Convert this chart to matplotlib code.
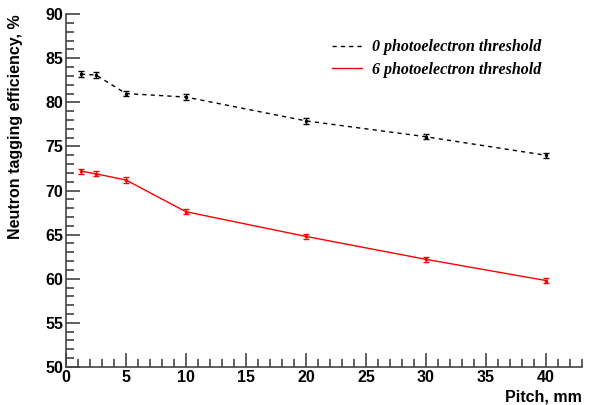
import numpy as np
import matplotlib
matplotlib.use("Agg")
import matplotlib.pyplot as plt
from matplotlib.ticker import MultipleLocator
from matplotlib.lines import Line2D

# data
pitch = [1.25, 2.5, 5, 10, 20, 30, 40]
eff_0pe = [83.2, 83.1, 81.0, 80.6, 77.9, 76.1, 74.0]
err_0pe = [0.3, 0.3, 0.3, 0.3, 0.3, 0.3, 0.3]
eff_6pe = [72.2, 71.9, 71.2, 67.6, 64.8, 62.2, 59.8]
err_6pe = [0.3, 0.3, 0.3, 0.3, 0.3, 0.3, 0.3]
labels = ["0 photoelectron threshold", "6 photoelectron threshold"]

plt.rcParams['font.family'] = ['Liberation Sans', 'DejaVu Sans']

fig = plt.figure(figsize=(5.89, 4.05), dpi=100)
ax = fig.add_axes([0.112, 0.094, 0.876, 0.871])

ax.errorbar(pitch, eff_0pe, yerr=err_0pe, color='black', ls=(0, (3, 3)), lw=1,
            capsize=2, elinewidth=1, capthick=1, marker='o', ms=1.5)
ax.errorbar(pitch, eff_6pe, yerr=err_6pe, color='red', ls='-', lw=1,
            capsize=2, elinewidth=1, capthick=1, marker='o', ms=1.5)

ax.set_xlim(0, 43)
ax.set_ylim(50, 90)
ax.xaxis.set_major_locator(MultipleLocator(5))
ax.xaxis.set_minor_locator(MultipleLocator(1))
ax.yaxis.set_major_locator(MultipleLocator(5))
ax.yaxis.set_minor_locator(MultipleLocator(1))
ax.tick_params(which='both', direction='in', color='#444444', width=1.2)
ax.tick_params(which='major', length=10, labelsize=11.5, pad=2)
ax.tick_params(which='minor', length=5.5)
for lab in ax.get_xticklabels() + ax.get_yticklabels():
    lab.set_fontweight('bold')

for s in ['top', 'right']:
    ax.spines[s].set_visible(False)
for s in ['left', 'bottom']:
    ax.spines[s].set_color('#444444')
    ax.spines[s].set_linewidth(1.2)

ax.set_xlabel("Pitch, mm", fontsize=11.5, fontweight='bold', ha='right')
ax.xaxis.set_label_coords(1.0, -0.065)
ax.set_ylabel("Neutron tagging efficiency, %", fontsize=11.5, fontweight='bold', ha='right')
ax.yaxis.set_label_coords(-0.084, 1.0)

handles = [Line2D([], [], color='black', ls=(0, (3, 3)), lw=1),
           Line2D([], [], color='red', ls='-', lw=1)]
leg = ax.legend(handles, labels, loc='upper left', bbox_to_anchor=(0.515, 0.929),
                frameon=False, borderpad=0, borderaxespad=0,
                handlelength=1.9, handletextpad=0.63, labelspacing=0.4,
                prop={'family': 'Liberation Serif', 'weight': 'bold', 'style': 'italic', 'size': 11.5})

fig.savefig("out.png", dpi=100)
